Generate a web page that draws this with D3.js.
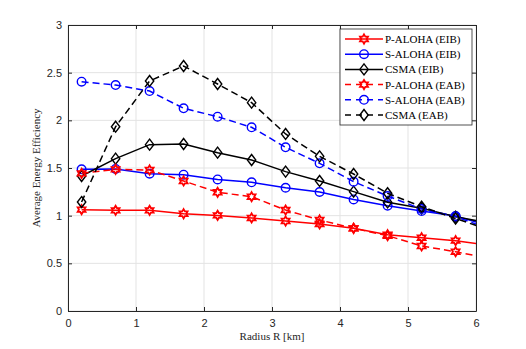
<!DOCTYPE html>
<html lang="en">
<head>
<meta charset="UTF-8">
<title>Average Energy Efficiency</title>
<script src="https://d3js.org/d3.v7.min.js"></script>
<style>
    body { margin: 0; background: #fff; }
    svg { display: block; }
    .tick text { font-family: "Liberation Sans", Arial, sans-serif; font-size: 11px; fill: #262626; }
    .lbl { font-family: "Liberation Serif", "DejaVu Serif", serif; font-size: 11px; fill: #262626; }
    .legend text { font-family: "Liberation Serif", "DejaVu Serif", serif; font-size: 11px; fill: #000; }
</style>
</head>
<body>
<svg id="chart" width="526" height="349"></svg>
<script>
// radius points (last one lies beyond the axis and is clipped)
const radius = [0.2, 0.7, 1.2, 1.7, 2.2, 2.7, 3.2, 3.7, 4.2, 4.7, 5.2, 5.7, 6.2];

const pAlohaEIB = [1.063, 1.056, 1.056, 1.02, 1.003, 0.976, 0.944, 0.913, 0.867, 0.80, 0.769, 0.738, 0.69];
const sAlohaEIB = [1.486, 1.49, 1.44, 1.43, 1.38, 1.35, 1.293, 1.248, 1.17, 1.105, 1.049, 0.997, 0.89];
const csmaEIB   = [1.416, 1.598, 1.745, 1.752, 1.661, 1.584, 1.462, 1.364, 1.252, 1.14, 1.077, 0.99, 0.92];
const pAlohaEAB = [1.444, 1.486, 1.479, 1.364, 1.245, 1.199, 1.059, 0.955, 0.867, 0.79, 0.682, 0.622, 0.55];
const sAlohaEAB = [2.405, 2.37, 2.307, 2.126, 2.038, 1.927, 1.717, 1.549, 1.357, 1.206, 1.07, 0.99, 0.86];
const csmaEAB   = [1.143, 1.933, 2.413, 2.57, 2.381, 2.185, 1.857, 1.622, 1.437, 1.235, 1.094, 0.97, 0.85];

const xTicks = [0, 1, 2, 3, 4, 5, 6];
const yTicks = [0, 0.5, 1, 1.5, 2, 2.5, 3];

const series = [
    { label: "P-ALOHA (EIB)", values: pAlohaEIB, color: "#ff0000", dash: null, marker: "hex" },
    { label: "S-ALOHA (EIB)", values: sAlohaEIB, color: "#0000ff", dash: null, marker: "circle" },
    { label: "CSMA (EIB)",    values: csmaEIB,   color: "#000000", dash: null, marker: "diamond" },
    { label: "P-ALOHA (EAB)", values: pAlohaEAB, color: "#ff0000", dash: "7,4", marker: "hex" },
    { label: "S-ALOHA (EAB)", values: sAlohaEAB, color: "#0000ff", dash: "7,4", marker: "circle" },
    { label: "CSMA (EAB)",    values: csmaEAB,   color: "#000000", dash: "7,4", marker: "diamond" }
];

const margin = { top: 25, right: 50, bottom: 38, left: 68 },
      width = 526 - margin.left - margin.right,
      height = 349 - margin.top - margin.bottom;

const svg = d3.select("#chart");
const g = svg.append("g").attr("transform", `translate(${margin.left},${margin.top})`);

const x = d3.scaleLinear().domain([0, 6]).range([0, width]);
const y = d3.scaleLinear().domain([0, 3]).range([height, 0]);

g.append("clipPath").attr("id", "clip")
  .append("rect").attr("width", width).attr("height", height);

// grid
g.selectAll(".gx").data(xTicks).enter().append("line")
  .attr("x1", d => x(d)).attr("x2", d => x(d)).attr("y1", 0).attr("y2", height)
  .attr("stroke", "#e3e3e3").attr("stroke-width", 1);
g.selectAll(".gy").data(yTicks).enter().append("line")
  .attr("y1", d => y(d)).attr("y2", d => y(d)).attr("x1", 0).attr("x2", width)
  .attr("stroke", "#e3e3e3").attr("stroke-width", 1);

// axes with inward ticks
const axColor = "#262626";
g.append("g").attr("transform", `translate(0,${height})`)
  .call(d3.axisBottom(x).tickValues(xTicks).tickSizeInner(-4).tickSizeOuter(0).tickPadding(8).tickFormat(d3.format("d")));
g.append("g")
  .call(d3.axisLeft(y).tickValues(yTicks).tickSizeInner(-4).tickSizeOuter(0).tickPadding(6).tickFormat(d => d));
g.append("g")
  .call(d3.axisTop(x).tickValues(xTicks).tickSizeInner(-4).tickSizeOuter(0).tickFormat(""));
g.append("g").attr("transform", `translate(${width},0)`)
  .call(d3.axisRight(y).tickValues(yTicks).tickSizeInner(-4).tickSizeOuter(0).tickFormat(""));
g.selectAll(".domain, .tick line").attr("stroke", axColor);

// marker shapes
function hexagram(r) {
    const pts = [];
    for (let i = 0; i < 12; i++) {
        const a = -Math.PI / 2 + i * Math.PI / 6;
        const rr = i % 2 === 0 ? r : r * 0.58;
        pts.push([rr * Math.cos(a), rr * Math.sin(a)]);
    }
    return "M" + pts.map(p => p.join(",")).join("L") + "Z";
}
function markerPath(type) {
    if (type === "hex") return hexagram(4.6);
    if (type === "diamond") return "M0,-5.5L4.2,0L0,5.5L-4.2,0Z";
    return d3.symbol().type(d3.symbolCircle).size(Math.PI * 4.3 * 4.3)();
}

const line = d3.line().x((d, i) => x(radius[i])).y(d => y(d));
const plot = g.append("g").attr("clip-path", "url(#clip)");

series.forEach(s => {
    plot.append("path")
      .datum(s.values)
      .attr("d", line)
      .attr("fill", "none")
      .attr("stroke", s.color)
      .attr("stroke-width", 1.5)
      .attr("stroke-dasharray", s.dash);
    plot.selectAll(null).data(s.values).enter().append("path")
      .attr("transform", (d, i) => `translate(${x(radius[i])},${y(d)})`)
      .attr("d", markerPath(s.marker))
      .attr("fill", "none")
      .attr("stroke", s.color)
      .attr("stroke-width", s.marker === "hex" ? 1.8 : 1.4);
});

// axis labels
svg.append("text").attr("class", "lbl")
  .attr("x", margin.left + width / 2).attr("y", 340)
  .attr("text-anchor", "middle").text("Radius R [km]");
svg.append("text").attr("class", "lbl")
  .attr("transform", `translate(40,${margin.top + height / 2}) rotate(-90)`)
  .attr("text-anchor", "middle").text("Average Energy Efficiency");

// legend
const lg = g.append("g").attr("class", "legend").attr("transform", `translate(${width - 136},4)`);
lg.append("rect").attr("width", 132).attr("height", 96)
  .attr("fill", "#fff").attr("stroke", axColor).attr("stroke-width", 0.8);
const item = lg.selectAll(".item").data(series).enter().append("g")
  .attr("transform", (d, i) => `translate(0,${10 + i * 15.2})`);
item.append("line").attr("x1", 5).attr("x2", 43)
  .attr("stroke", d => d.color).attr("stroke-width", 1.5)
  .attr("stroke-dasharray", d => d.dash ? "6,5" : null);
item.append("path").attr("transform", "translate(24,0)")
  .attr("d", d => markerPath(d.marker))
  .attr("fill", "none").attr("stroke", d => d.color)
  .attr("stroke-width", d => d.marker === "hex" ? 1.8 : 1.4);
item.append("text").attr("x", 45).attr("y", 4).text(d => d.label);
</script>
</body>
</html>
